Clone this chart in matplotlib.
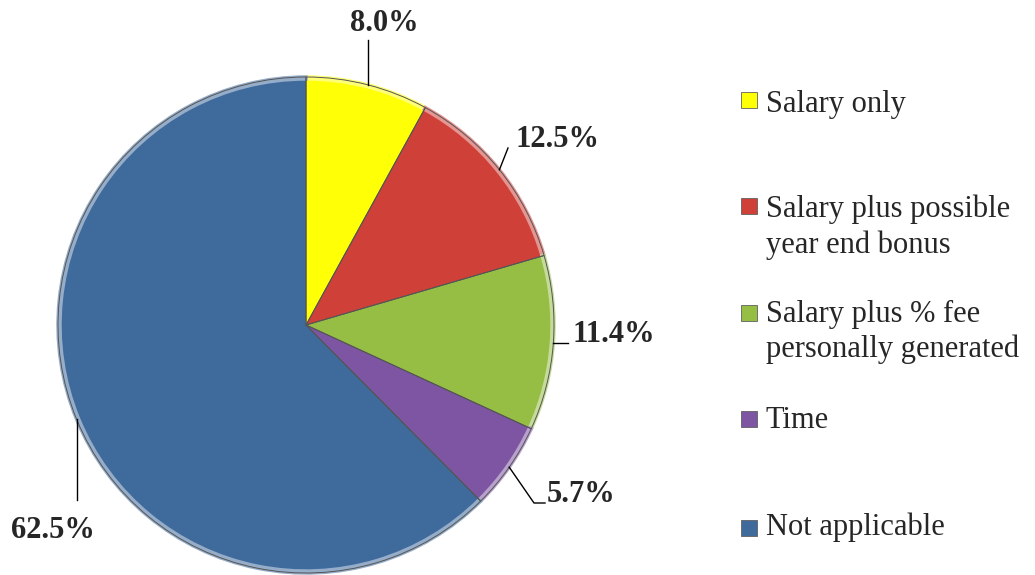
import numpy as np
import matplotlib
matplotlib.use('Agg')
import matplotlib.pyplot as plt
from matplotlib.patches import Rectangle
import matplotlib.colors as mcolors

# Datos del grafico
categorias = ['Salary only', 'Salary plus possible\nyear end bonus',
              'Salary plus % fee\npersonally generated', 'Time', 'Not applicable']
valores = [8.0, 12.5, 11.4, 5.7, 62.5]
etiquetas = ['8.0%', '12.5%', '11.4%', '5.7%', '62.5%']
colores = ['#FFFF05', '#CF4038', '#96BE45', '#7D55A3', '#3F6A9C']

plt.rcParams['font.family'] = ['Liberation Serif', 'DejaVu Serif']

W, H = 1035, 575
fig = plt.figure(figsize=(W / 100, H / 100), dpi=100)

# Pie centrado en (306, 325) px con radio 248 px
cx, cy, r = 306, 325, 248
ax = fig.add_axes([(cx - r) / W, (H - cy - r) / H, 2 * r / W, 2 * r / H])

# Borde claro (efecto bisel) + relleno + contorno fino
claros = [mcolors.to_hex(0.55 * np.array(mcolors.to_rgb(c)) + 0.45) for c in colores]
bordes, _ = ax.pie(valores, colors=claros, startangle=90, counterclock=False,
                   wedgeprops=dict(linewidth=2.5))
for b, c in zip(bordes, claros):
    b.set_edgecolor(c)
ax.pie(valores, colors=colores, startangle=90, counterclock=False, radius=0.985,
       wedgeprops=dict(linewidth=0))
wedges, _ = ax.pie(valores, colors=['none'] * 5, startangle=90, counterclock=False,
                   wedgeprops=dict(edgecolor='#555555', linewidth=0.7))
ax.set_xlim(-1, 1)
ax.set_ylim(-1, 1)
ax.set_aspect('equal')

# Etiquetas con lineas guia (posiciones en px convertidas a unidades de radio)
def px(x, y):
    return (x - cx) / r, (cy - y) / r

txt = dict(fontsize=22, fontweight='bold', color='#262626', va='center', ha='center')
for w, lab in zip(wedges, etiquetas):
    ang = np.deg2rad((w.theta1 + w.theta2) / 2)
    ex, ey = np.cos(ang), np.sin(ang)
    if lab == '8.0%':
        ax.plot([ex, ex], [ey, px(0, 40)[1]], color='k', lw=1, clip_on=False)
        ax.text(*px(384, 23), lab, **txt)
    elif lab == '12.5%':
        ax.plot([ex, px(508, 148)[0]], [ey, px(508, 148)[1]], color='k', lw=1, clip_on=False)
        ax.text(*px(557, 139), lab, **txt)
    elif lab == '11.4%':
        ax.plot([ex, px(568, 0)[0]], [ey, ey], color='k', lw=1, clip_on=False)
        ax.text(*px(614, 335), lab, **txt)
    elif lab == '5.7%':
        ax.plot([ex, px(534, 0)[0], px(545, 0)[0]], [ey, px(0, 503)[1], px(0, 503)[1]],
                color='k', lw=1, clip_on=False)
        ax.text(*px(581, 494), lab, **txt)
    else:
        ax.plot([ex, ex], [ey, px(0, 500)[1]], color='k', lw=1, clip_on=False)
        ax.text(*px(53, 530), lab, **txt)

# Leyenda manual: centro del marcador y linea base de cada renglon (px)
marca_y = [100, 206, 313, 419, 528]
base_y = [[112], [217, 253], [322, 357], [428], [535]]
s = 16
for cat, col, my, bys in zip(categorias, colores, marca_y, base_y):
    fig.add_artist(Rectangle((741 / W, (H - my - s / 2) / H), s / W, s / H,
                             facecolor=col, edgecolor='#606060', lw=0.6,
                             transform=fig.transFigure))
    for linea, by in zip(cat.split('\n'), bys):
        fig.text(766 / W, (H - by) / H, linea, fontsize=22, color='#262626',
                 va='baseline', ha='left')

plt.savefig('out.png', dpi=100)
